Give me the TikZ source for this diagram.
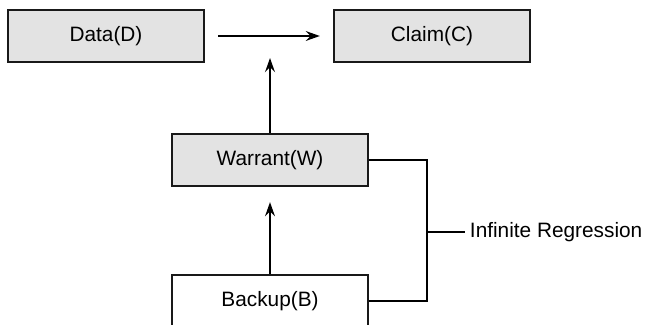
\documentclass[tikz,border=0pt]{standalone}
\usepackage{fontspec}
\setmainfont{Liberation Sans}
\usepackage{tikz}
\usetikzlibrary{arrows.meta}

\begin{document}
\begin{tikzpicture}[x=0.025cm, y=0.025cm,
        box/.style={draw=black!90, line width=1.6pt, minimum width=4.9cm, minimum height=1.3cm,
            inner sep=0pt, font=\fontsize{14.8}{17}\selectfont},
        grey/.style={box, fill=black!11},
        arr/.style={line width=1.8pt, -{Stealth[length=10pt, width=7pt, inset=3.5pt]}}]
        % 画布范围
        \clip (0,0) rectangle (649,324);
        \useasboundingbox (0,0) rectangle (649,324);

        % 四个方框
        \node[grey] (data) at (106,288) {Data(D)};
        \node[grey] (claim) at (432,288) {Claim(C)};
        \node[grey] (warrant) at (270,164) {Warrant(W)};
        \node[box, fill=white] (backup) at (270,23) {Backup(B)};

        % 箭头
        \draw[arr, shorten <=13*0.025cm, shorten >=13*0.025cm] (data) -- (claim);
        \coordinate (link) at (warrant.north |- data.east);
        \draw[arr, shorten >=22*0.025cm] (warrant.north) -- (link);
        \draw[arr, shorten >=15*0.025cm] (backup.north) -- (warrant.south);

        % 右侧括号
        \coordinate (mid) at (427,92);
        \draw[line width=1.1pt] (warrant.east) -| (mid) |- (backup.east);
        \node[anchor=west, font=\fontsize{14.8}{17}\selectfont] (regr) at (465,92) {Infinite Regression};
        \draw[line width=1.1pt] (mid) -- (regr.west);
    \end{tikzpicture}
\end{document}
